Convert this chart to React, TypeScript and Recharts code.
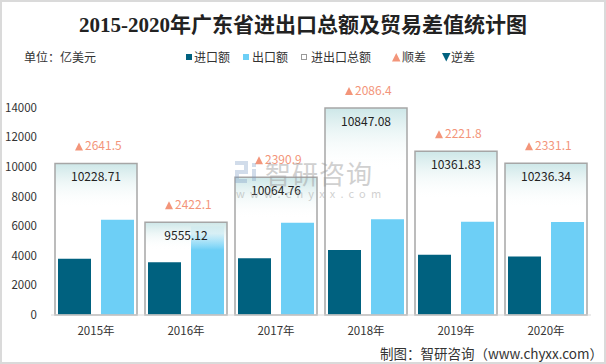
import React from 'react';
import { BarChart, Bar, XAxis, YAxis, LabelList } from 'recharts';

const years = ['2015年', '2016年', '2017年', '2018年', '2019年', '2020年'];
const importValues = [3793.6, 3566.5, 3836.9, 4380.3, 4070.0, 3952.6];
const exportValues = [6435.1, 5988.6, 6227.8, 6466.7, 6291.8, 6283.7];
const totalValues = [10228.71, 9555.12, 10064.76, 10847.08, 10361.83, 10236.34];
// height of the total frame as it is drawn in the source picture
const totalFrames = [10228.71, 6260, 9300, 13970, 11060, 10236.34];
const surplusValues = [2641.5, 2422.1, 2390.9, 2086.4, 2221.8, 2331.1];
const yTicks = [0, 2000, 4000, 6000, 8000, 10000, 12000, 14000];

const IMPORT_COLOR = '#00617f';
const EXPORT_COLOR = '#6dcff6';
const SURPLUS_COLOR = '#f3957a';

const data = years.map((year, i) => ({
  year,
  imp: importValues[i],
  exp: exportValues[i],
  frame: totalFrames[i],
  total: totalValues[i],
  surplus: surplusValues[i],
}));

const FONT = '"Noto Sans CJK SC", "Noto Sans", sans-serif';

// total label, sits inside the top of the frame
const TotalLabel = ({ x, y, width, value }: any) => (
  <text x={x + width / 2} y={y + 18} textAnchor="middle" fontSize={12} fill="#222">
    {value}
  </text>
);

// ▲ + surplus, above the frame
const SurplusLabel = ({ x, y, width, value }: any) => {
  const cx = x + width / 2;
  const by = y - 13;
  return (
    <g>
      <polygon
        points={`${cx - 21},${by} ${cx - 13},${by} ${cx - 17},${by - 8}`}
        fill={SURPLUS_COLOR}
      />
      <text x={cx - 11} y={by} textAnchor="start" fontSize={12} fill={SURPLUS_COLOR}>
        {value}
      </text>
    </g>
  );
};

const legendText: React.CSSProperties = {
  position: 'absolute',
  top: 50,
  fontSize: 12,
  lineHeight: '14px',
  color: '#333',
  whiteSpace: 'nowrap',
};

const Legend = () => (
  <>
    <div style={{ position: 'absolute', left: 186, top: 54, width: 6, height: 6, background: IMPORT_COLOR }} />
    <div style={{ ...legendText, left: 194 }}>进口额</div>
    <div style={{ position: 'absolute', left: 243, top: 54, width: 6, height: 6, background: EXPORT_COLOR }} />
    <div style={{ ...legendText, left: 252 }}>出口额</div>
    <div style={{ position: 'absolute', left: 301, top: 54, width: 6, height: 6, boxSizing: 'border-box', border: '1px solid #999' }} />
    <div style={{ ...legendText, left: 311 }}>进出口总额</div>
    <svg style={{ position: 'absolute', left: 392, top: 53 }} width={9} height={9}>
      <polygon points="0,8.5 8.5,8.5 4.25,0" fill={SURPLUS_COLOR} />
    </svg>
    <div style={{ ...legendText, left: 402 }}>顺差</div>
    <svg style={{ position: 'absolute', left: 442, top: 53 }} width={9} height={9}>
      <polygon points="0,0 8.5,0 4.25,8.5" fill={IMPORT_COLOR} />
    </svg>
    <div style={{ ...legendText, left: 451 }}>逆差</div>
  </>
);

export default function App() {
  return (
    <div
      style={{
        position: 'absolute',
        left: 0,
        top: 0,
        width: 606,
        height: 364,
        background: '#fff',
        fontFamily: FONT,
        overflow: 'hidden',
      }}
    >
      <div
        style={{
          position: 'absolute',
          left: 0,
          top: 11,
          width: 606,
          textAlign: 'center',
          fontFamily: '"Liberation Serif", "Noto Sans CJK SC", serif',
          fontWeight: 700,
          fontSize: 21,
          lineHeight: '28px',
          color: '#222',
        }}
      >
        2015-2020年广东省进出口总额及贸易差值统计图
      </div>
      <div style={{ ...legendText, left: 24 }}>单位：亿美元</div>
      <Legend />

      <div style={{ position: 'absolute', left: 0, top: 0 }}>
        <BarChart
          width={606}
          height={364}
          data={data}
          margin={{ top: 78, right: 15, bottom: 0, left: 0 }}
          barGap={10}
        >
          <defs>
            <linearGradient id="frameFill" x1="0" y1="0" x2="0" y2="1">
              <stop offset="0" stopColor="#cde7e8" stopOpacity={1} />
              <stop offset="0.12" stopColor="#eaf5f5" stopOpacity={0.85} />
              <stop offset="0.3" stopColor="#ffffff" stopOpacity={0} />
            </linearGradient>
          </defs>
          <XAxis
            dataKey="year"
            height={49}
            tickSize={0}
            tickMargin={12}
            tickLine={false}
            axisLine={{ stroke: '#d9d9d9', strokeWidth: 1 }}
            tick={{ fontSize: 11.5, fill: '#333' }}
          />
          <XAxis xAxisId="frame" dataKey="year" hide />
          <YAxis
            width={51}
            domain={[0, 16000]}
            ticks={yTicks}
            tickSize={0}
            tickMargin={14}
            axisLine={false}
            tickLine={false}
            tick={{ fontSize: 11.5, fill: '#333' }}
          />
          <Bar dataKey="imp" fill={IMPORT_COLOR} barSize={33} isAnimationActive={false} />
          <Bar dataKey="exp" fill={EXPORT_COLOR} barSize={33} isAnimationActive={false} />
          <Bar
            xAxisId="frame"
            dataKey="frame"
            barSize={82}
            fill="url(#frameFill)"
            stroke="#a6a6a6"
            strokeWidth={1.5}
            isAnimationActive={false}
          >
            <LabelList dataKey="total" content={<TotalLabel />} />
            <LabelList dataKey="surplus" content={<SurplusLabel />} />
          </Bar>
        </BarChart>
      </div>

      {/* watermark */}
      <div style={{ position: 'absolute', left: 233, top: 160, opacity: 0.35, pointerEvents: 'none' }}>
        <svg width={30} height={24}>
          <path d="M2 3 H13 V12 H4 V21 H14" fill="none" stroke="#7e9cc4" strokeWidth={4} />
          <rect x={19} y={3} width={4} height={4} fill="#7e9cc4" />
          <rect x={19} y={9} width={4} height={12} fill="#7e9cc4" />
        </svg>
      </div>
      <div
        style={{
          position: 'absolute',
          left: 265,
          top: 156,
          fontSize: 26,
          lineHeight: '34px',
          letterSpacing: 1,
          color: '#999',
          opacity: 0.45,
          pointerEvents: 'none',
        }}
      >
        智研咨询
      </div>
      <div
        style={{
          position: 'absolute',
          left: 236,
          top: 186,
          fontSize: 11,
          lineHeight: '14px',
          letterSpacing: 5.2,
          color: '#999',
          opacity: 0.45,
          pointerEvents: 'none',
        }}
      >
        www.chyxx.com
      </div>

      <div
        style={{
          position: 'absolute',
          right: 3,
          top: 344,
          fontSize: 13.5,
          lineHeight: '18px',
          color: '#333',
          whiteSpace: 'nowrap',
        }}
      >
        制图：智研咨询（www.chyxx.com）
      </div>
      <div
        style={{
          position: 'absolute',
          left: 0,
          top: 0,
          width: 606,
          height: 364,
          boxSizing: 'border-box',
          border: '2px solid #dadada',
          pointerEvents: 'none',
        }}
      />
    </div>
  );
}
